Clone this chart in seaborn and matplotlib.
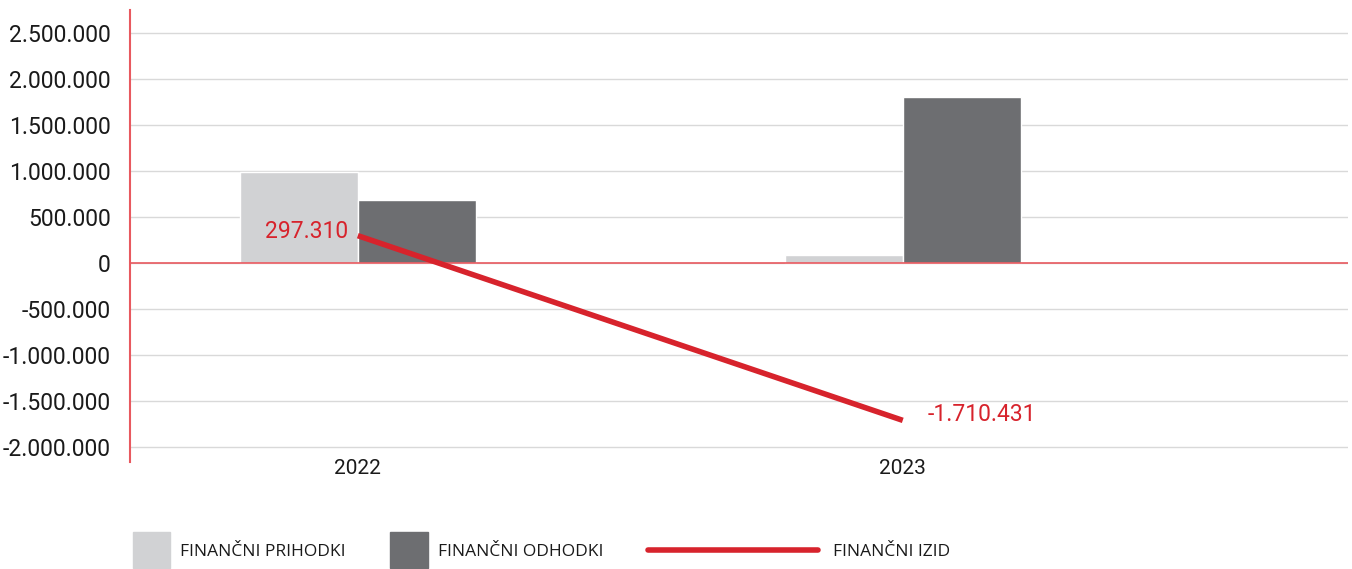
import matplotlib.pyplot as plt
import matplotlib.patches as mpatches
import matplotlib.lines as mlines
from matplotlib.ticker import FuncFormatter, MultipleLocator
import numpy as np
import pandas as pd
import seaborn as sns

years = ["2022", "2023"]
prihodki = [985000, 89569]
odhodki = [687690, 1800000]
izid = [297310, -1710431]
series_names = ["FINANČNI PRIHODKI", "FINANČNI ODHODKI", "FINANČNI IZID"]

LIGHT = "#d1d2d4"
DARK = "#6d6e71"
RED = "#d7232c"
AXRED = "#e8595f"

sns.set_theme(style="white")
plt.rcParams["font.family"] = ["Roboto", "DejaVu Sans"]


def dots(v, _pos=None):
    s = f"{abs(int(round(v))):,}".replace(",", ".")
    return "-" + s if v < 0 else s


df = pd.DataFrame({
    "year": years * 2,
    "value": prihodki + odhodki,
    "series": [series_names[0]] * 2 + [series_names[1]] * 2,
})

fig = plt.figure(figsize=(13.52, 5.69), dpi=100)
ax = fig.add_axes([130 / 1352, 107 / 569, 1218 / 1352, 452 / 569])

sns.barplot(data=df, x="year", y="value", hue="series", palette=[LIGHT, DARK],
            width=0.433, gap=0, edgecolor="white", linewidth=1, saturation=1,
            legend=False, ax=ax, zorder=3)

xs = np.arange(len(years))
ax.plot(xs, izid, color=RED, lw=4, solid_capstyle="butt", zorder=5)
ax.text(xs[0] - 0.017, izid[0] + 45000, dots(izid[0]), color=RED, fontsize=16.5,
        ha="right", va="center", zorder=6)
ax.text(xs[1] + 0.045, izid[1] + 65000, dots(izid[1]), color=RED, fontsize=16.5,
        ha="left", va="center", zorder=6)

ax.set_xlim(-0.418, 1.817)
ax.set_ylim(-2163000, 2750000)
ax.yaxis.set_major_locator(MultipleLocator(500000))
ax.yaxis.set_major_formatter(FuncFormatter(dots))
ax.grid(axis="y", color="#d9d9d9", lw=1, zorder=0)
ax.axhline(0, color=AXRED, lw=1.2, zorder=4)
ax.set_axisbelow(True)
for s in ["top", "right", "bottom"]:
    ax.spines[s].set_visible(False)
ax.spines["left"].set_color(AXRED)
ax.spines["left"].set_linewidth(1.5)
ax.tick_params(axis="y", length=0, pad=14, labelsize=16.5, labelcolor="#1a1a1a")
ax.tick_params(axis="x", length=0, pad=-2, labelsize=15, labelcolor="#1a1a1a")
ax.set_xlabel("")
ax.set_ylabel("")

# legend at the bottom
W, H = 1352, 569
fig.add_artist(mpatches.Rectangle((133 / W, 1 / H), 37 / W, 36 / H,
                                  transform=fig.transFigure, color=LIGHT))
fig.add_artist(mpatches.Rectangle((390 / W, 1 / H), 38 / W, 36 / H,
                                  transform=fig.transFigure, color=DARK))
fig.add_artist(mlines.Line2D([648 / W, 818 / W], [19 / H, 19 / H],
                             transform=fig.transFigure, color=RED, lw=4))
for x0, name in zip([180, 438, 833], series_names):
    fig.text(x0 / W, 17 / H, name, fontsize=12.5, color="#1a1a1a",
             ha="left", va="center", family=["Open Sans", "DejaVu Sans"])

fig.savefig("out.png", dpi=100)
plt.close(fig)
